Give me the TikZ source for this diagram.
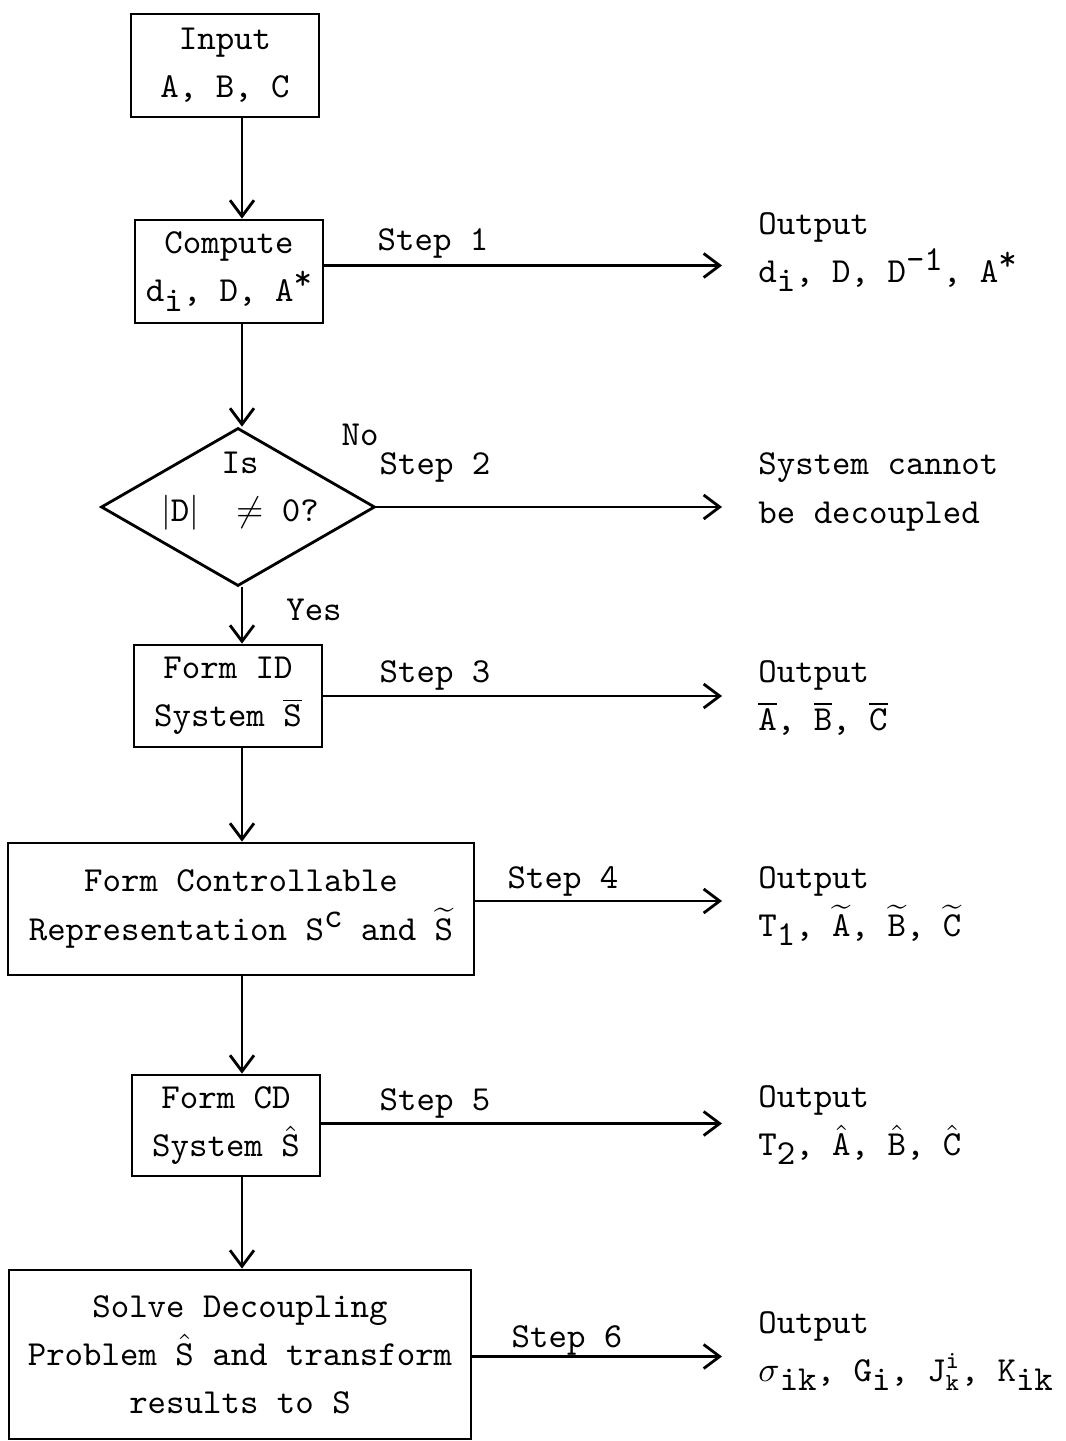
\documentclass[tikz,border=0pt]{standalone}
\usetikzlibrary{arrows.meta,shapes.geometric}
\newcommand{\subtt}[1]{\raisebox{-0.6ex}{#1}}
\newcommand{\suptt}[1]{\raisebox{0.8ex}{#1}}
\begin{document}
\begin{tikzpicture}[
        font=\ttfamily\fontsize{10}{13.7}\selectfont,
        line width=0.8pt,
        >={Straight Barb[length=1.6mm,width=2.4mm]},
        box/.style={draw,align=center,inner sep=0pt},
        outtext/.style={anchor=west,align=left,inner sep=0pt},
        tip/.style={shorten >=3.5mm}
    ]
    \useasboundingbox (0,0) rectangle (10.65,-14.41);
    \coordinate (spine) at (2.42,0);
    %% boxes of the main column
    \node[box,minimum width=1.88cm,minimum height=1.03cm] (in) at (2.25,-0.655) {Input\\A, B, C};
    \node[box,minimum width=1.88cm,minimum height=1.03cm] (comp) at (2.29,-2.715) {Compute\\d\subtt{i}, D, A\suptt{*}};
    \node[draw,diamond,aspect=1.73,minimum width=2.74cm,minimum height=1.58cm,inner sep=0pt] (dec) at (2.38,-5.07) {};
    \node[align=center,inner sep=0pt] (q) at (2.40,-4.91) {Is\\$\left|\mathtt{D}\right|$\ \ $\neq$ 0?};
    \node[box,minimum width=1.88cm,minimum height=1.02cm] (fid) at (2.28,-6.96) {Form ID\\System $\overline{\mathtt{S}}$};
    \node[box,minimum width=4.66cm,minimum height=1.32cm] (fc) at (2.41,-9.09) {Form Controllable\\Representation S\suptt{c} and $\widetilde{\mathtt{S}}$};
    \node[box,minimum width=1.88cm,minimum height=1.01cm] (fcd) at (2.26,-11.255) {Form CD\\System $\hat{\mathtt{S}}$};
    \node[box,minimum width=4.62cm,minimum height=1.69cm] (sol) at (2.40,-13.545) {Solve Decoupling\\Problem $\hat{\mathtt{S}}$ and transform\\results to S};
    %% outputs
    \node[outtext] (o1) at (7.57,-2.52) {Output\\d\subtt{i}, D, D\suptt{-1}, A\suptt{*}};
    \node[outtext] (o2) at (7.57,-4.92) {System cannot\\be decoupled};
    \node[outtext] (o3) at (7.57,-6.98) {Output\\$\overline{\mathtt{A}}$, $\overline{\mathtt{B}}$, $\overline{\mathtt{C}}$};
    \node[outtext] (o4) at (7.57,-9.06) {Output\\T\subtt{1}, $\widetilde{\mathtt{A}}$, $\widetilde{\mathtt{B}}$, $\widetilde{\mathtt{C}}$};
    \node[outtext] (o5) at (7.57,-11.25) {Output\\T\subtt{2}, $\hat{\mathtt{A}}$, $\hat{\mathtt{B}}$, $\hat{\mathtt{C}}$};
    \node[outtext] (o6) at (7.57,-13.51) {Output\\$\sigma$\subtt{ik}, G\subtt{i}, J$^{\mathtt{i}}_{\mathtt{k}}$, K\subtt{ik}};
    %% step labels
    \node (s1) at (4.33,-2.43) {Step 1};
    \node (s2) at (4.35,-4.67) {Step 2};
    \node (s3) at (4.35,-6.75) {Step 3};
    \node (s4) at (5.63,-8.81) {Step 4};
    \node (s5) at (4.35,-11.03) {Step 5};
    \node (s6) at (5.67,-13.40) {Step 6};
    \node (no) at (3.60,-4.35) {No};
    \node (yes) at (3.14,-6.10) {Yes};
    %% down the column
    \draw[->] (in.south -| spine) -- (comp.north -| spine);
    \draw[->] (comp.south -| spine) -- (dec.north -| spine);
    \draw[->] (dec.south -| spine) -- (fid.north -| spine);
    \draw[->] (fid.south -| spine) -- (fc.north -| spine);
    \draw[->] (fc.south -| spine) -- (fcd.north -| spine);
    \draw[->] (fcd.south -| spine) -- (sol.north -| spine);
    %% out to the right
    \draw[->,tip] ([yshift=0.06cm]comp.east) -- ([yshift=0.06cm]comp.east -| o1.west);
    \draw[->,tip] (dec.east) -- (dec.east -| o2.west);
    \draw[->,tip] (fid.east) -- (fid.east -| o3.west);
    \draw[->,tip] ([yshift=0.08cm]fc.east) -- ([yshift=0.08cm]fc.east -| o4.west);
    \draw[->,tip] ([yshift=0.02cm]fcd.east) -- ([yshift=0.02cm]fcd.east -| o5.west);
    \draw[->,tip] ([yshift=-0.02cm]sol.east) -- ([yshift=-0.02cm]sol.east -| o6.west);
\end{tikzpicture}
\end{document}
